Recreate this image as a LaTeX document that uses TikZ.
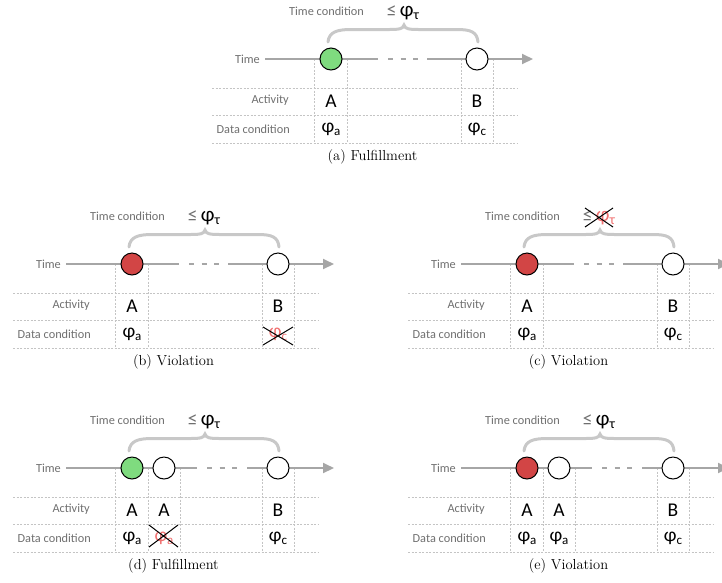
\documentclass[tikz,border=0pt]{standalone}
\usepackage{fontspec}
\newfontfamily\cf{Carlito}
\usetikzlibrary{arrows.meta}
\definecolor{tgray}{HTML}{A6A6A6}
\definecolor{gridc}{HTML}{C4C4C4}
\definecolor{bracec}{HTML}{C8C8C8}
\definecolor{labtext}{HTML}{6F6F6F}
\definecolor{okgreen}{HTML}{7FDB7F}
\definecolor{badred}{HTML}{D24545}
\definecolor{redtext}{HTML}{F07070}
\newcommand\myphi[1]{φ\raisebox{-3pt}{\fontsize{13}{13}\selectfont #1}}
\newcommand\tcond{{\color{labtext}≤}\,{\fontsize{21}{23}\selectfont φ\raisebox{-3pt}{\fontsize{14}{14}\selectfont τ}}}
\tikzset{
  lbl/.style={font=\cf\fontsize{12.3}{14}\selectfont, text=labtext, inner sep=0pt},
  big/.style={font=\cf\fontsize{19.5}{21}\selectfont, inner sep=0pt},
  circ/.style={circle, draw=black, line width=1pt, minimum size=22pt, inner sep=0pt},
  tline/.style={draw=tgray, line width=2pt},
  tdash/.style={draw=tgray, line width=2pt, dash pattern=on 5pt off 7.5pt},
  gridl/.style={draw=gridc, line width=0.7pt, dash pattern=on 2pt off 1.5pt},
  bracestyle/.style={draw=bracec, line width=3pt, line cap=round},
  xcross/.style={draw=black, line width=1pt},
  capt/.style={font=\fontsize{14.5}{17}\selectfont, inner sep=0pt},
}
% #1 prefix, #2 fill of first event, #3 caption, #4 gap start, #5 gap end
\newcommand\panelbase[5]{%
  \draw[gridl] (-119,29) -- (186,29) (-119,56) -- (186,56) (-119,84) -- (186,84);
  \draw[gridl] (-17,0) -- (-17,84) (16,0) -- (16,84) (130,0) -- (130,84) (162,0) -- (162,84);
  \node[lbl, anchor=east] (#1-time) at (-71,0) {Time};
  \node[lbl, anchor=east] (#1-act) at (-42,41) {Activity};
  \node[lbl, anchor=east] (#1-data) at (-41,70) {Data condition};
  \node[lbl] (#1-tc) at (-4.5,-47.5) {Time condition};
  \coordinate (#1-t0) at (-66,0);
  \coordinate (#1-g1) at (#4,0);
  \coordinate (#1-d0) at ({#4+10},0);
  \coordinate (#1-d1) at ({#5-9},0);
  \coordinate (#1-g2) at (#5,0);
  \coordinate (#1-end) at (202,0);
  \draw[tline] (#1-t0) -- (#1-g1);
  \draw[tdash] (#1-d0) -- (#1-d1);
  \draw[tline, -{Triangle[length=11pt,width=10pt]}] (#1-g2) -- (#1-end);
  \node[circ, fill=#2] (#1-c1) at (0,0) {};
  \node[circ, fill=white] (#1-cb) at (146,0) {};
  \draw[bracestyle] (-3,-17) .. controls (-2,-27) and (6,-29.5) .. (20,-29.5) -- (58,-29.5)
     .. controls (68,-29.5) and (72,-30) .. (73,-34)
     .. controls (74,-30) and (78,-29.5) .. (88,-29.5) -- (126,-29.5)
     .. controls (140,-29.5) and (146,-27) .. (147,-17);
  \node[big] (#1-A) at (0,42) {A};
  \node[big] (#1-B) at (146,42) {B};
  \node[capt] (#1-cap) at (41.5,98) {#3};
}
\begin{document}
\begin{tikzpicture}[x=1pt, y=-1pt]
\useasboundingbox (0,0) rectangle (722,582);
\clip (0,0) rectangle (722,582);
% (a)
\begin{scope}[shift={(331,59)}]
  \panelbase{a}{okgreen}{(a) Fulfillment}{47}{96}
  \node[big] (a-pa) at (0,70) {\myphi{a}};
  \node[big] (a-pc) at (146,70) {\myphi{c}};
  \node[big] (a-le) at (72,-46) {\tcond};
\end{scope}
% (b)
\begin{scope}[shift={(132,264)}]
  \panelbase{b}{badred}{(b) Violation}{47}{96}
  \node[big] (b-pa) at (0,70) {\myphi{a}};
  \node[big, text=redtext] (b-pc) at (146,70) {\myphi{c}};
  \draw[xcross] (131,63) -- (161,81) (131,81) -- (161,63);
  \node[big] (b-le) at (72,-46) {\tcond};
\end{scope}
% (c)
\begin{scope}[shift={(527,264)}]
  \panelbase{c}{badred}{(c) Violation}{47}{96}
  \node[big] (c-pa) at (0,70) {\myphi{a}};
  \node[big] (c-pc) at (146,70) {\myphi{c}};
  \node[big, text=redtext] (c-le) at (72,-46) {\tcond};
  \draw[xcross] (58,-56) -- (86,-37) (58,-37) -- (86,-56);
\end{scope}
% (d)
\begin{scope}[shift={(132,468)}]
  \draw[gridl] (48,0) -- (48,84);
  \panelbase{d}{okgreen}{(d) Fulfillment}{65}{115}
  \node[circ, fill=white] (d-c2) at (32,0) {};
  \node[big] (d-A2) at (32,42) {A};
  \node[big] (d-pa) at (0,70) {\myphi{a}};
  \node[big, text=redtext] (d-pa2) at (32,70) {\myphi{a}};
  \draw[xcross] (17,57) -- (46,79) (17,79) -- (46,57);
  \node[big] (d-pc) at (146,70) {\myphi{c}};
  \node[big] (d-le) at (72,-46) {\tcond};
\end{scope}
% (e)
\begin{scope}[shift={(527,468)}]
  \draw[gridl] (48,0) -- (48,84);
  \panelbase{e}{badred}{(e) Violation}{65}{115}
  \node[circ, fill=white] (e-c2) at (32,0) {};
  \node[big] (e-A2) at (32,42) {A};
  \node[big] (e-pa) at (0,70) {\myphi{a}};
  \node[big] (e-pa2) at (32,70) {\myphi{a}};
  \node[big] (e-pc) at (146,70) {\myphi{c}};
  \node[big] (e-le) at (72,-46) {\tcond};
\end{scope}
\end{tikzpicture}
\end{document}
